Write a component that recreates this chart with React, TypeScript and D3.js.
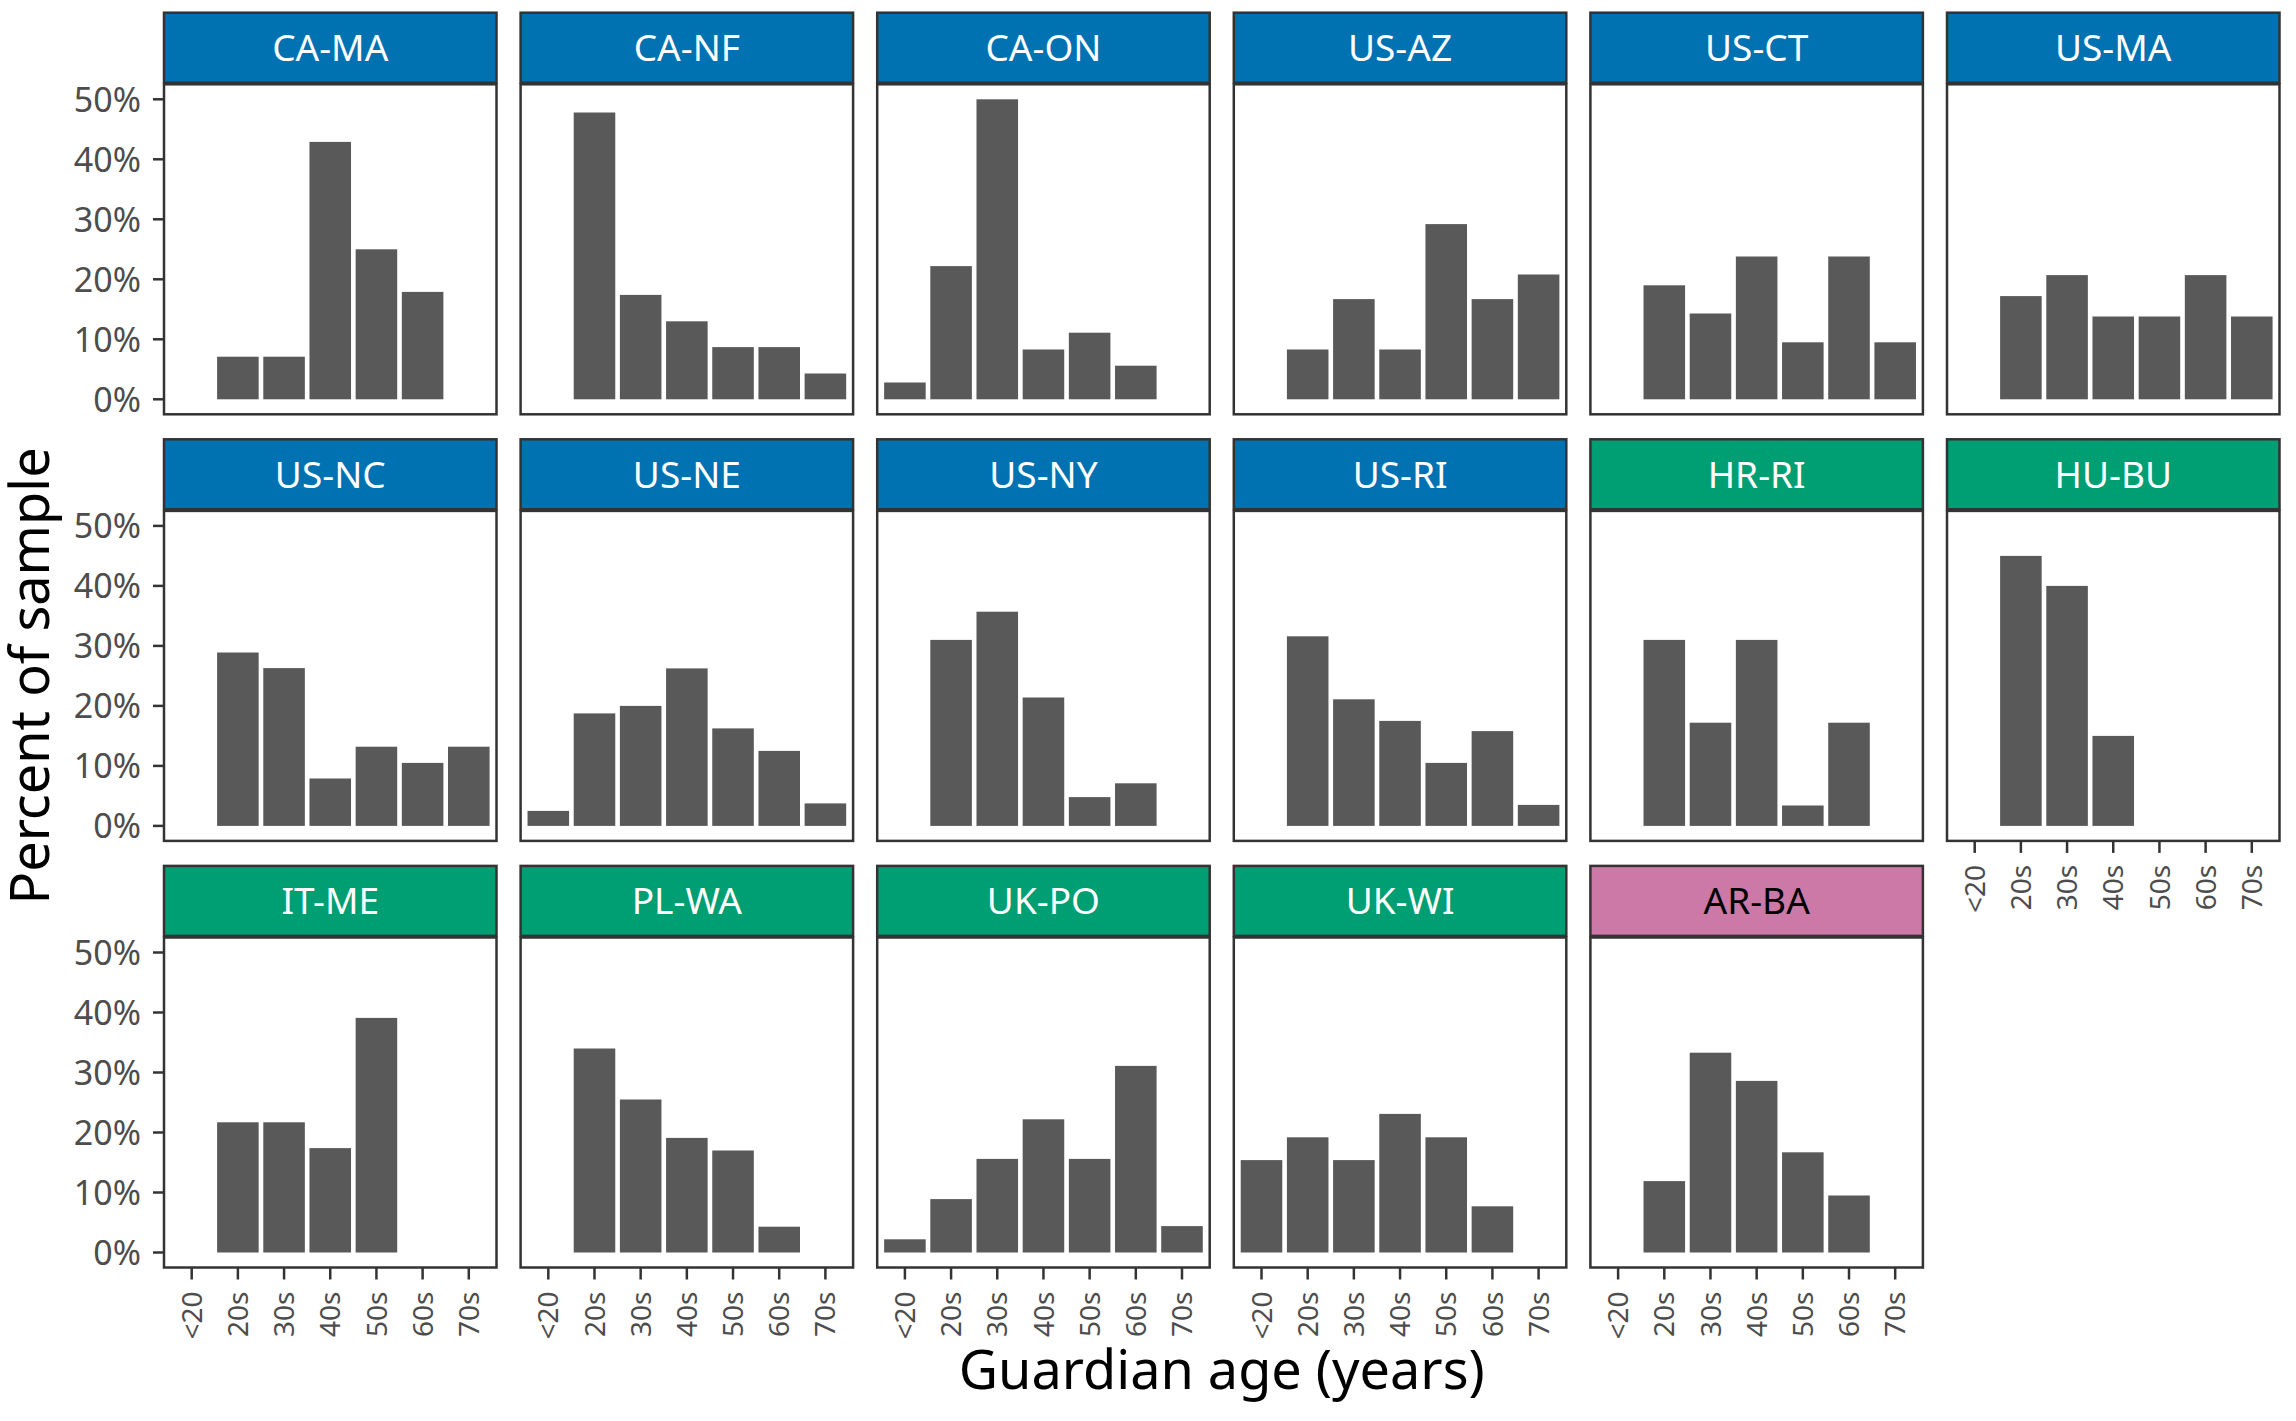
import * as d3 from "d3";

// age groups on the x axis
const ageGroups = ["<20", "20s", "30s", "40s", "50s", "60s", "70s"];
const yTicks = [0, 10, 20, 30, 40, 50];

// percent of sample per age group, one array per site
const caMa = [0, 7.1, 7.1, 42.9, 25.0, 17.9, 0];
const caNf = [0, 47.8, 17.4, 13.0, 8.7, 8.7, 4.3];
const caOn = [2.8, 22.2, 50.0, 8.3, 11.1, 5.6, 0];
const usAz = [0, 8.3, 16.7, 8.3, 29.2, 16.7, 20.8];
const usCt = [0, 19.0, 14.3, 23.8, 9.5, 23.8, 9.5];
const usMa = [0, 17.2, 20.7, 13.8, 13.8, 20.7, 13.8];
const usNc = [0, 28.9, 26.3, 7.9, 13.2, 10.5, 13.2];
const usNe = [2.5, 18.75, 20.0, 26.25, 16.25, 12.5, 3.75];
const usNy = [0, 31.0, 35.7, 21.4, 4.8, 7.1, 0];
const usRi = [0, 31.6, 21.1, 17.5, 10.5, 15.8, 3.5];
const hrRi = [0, 31.0, 17.2, 31.0, 3.4, 17.2, 0];
const huBu = [0, 45.0, 40.0, 15.0, 0, 0, 0];
const itMe = [0, 21.7, 21.7, 17.4, 39.1, 0, 0];
const plWa = [0, 34.0, 25.5, 19.1, 17.0, 4.3, 0];
const ukPo = [2.2, 8.9, 15.6, 22.2, 15.6, 31.1, 4.4];
const ukWi = [15.4, 19.2, 15.4, 23.1, 19.2, 7.7, 0];
const arBa = [0, 11.9, 33.3, 28.6, 16.7, 9.5, 0];

const siteNames = [
  "CA-MA", "CA-NF", "CA-ON", "US-AZ", "US-CT", "US-MA",
  "US-NC", "US-NE", "US-NY", "US-RI", "HR-RI", "HU-BU",
  "IT-ME", "PL-WA", "UK-PO", "UK-WI", "AR-BA",
];
const siteValues = [
  caMa, caNf, caOn, usAz, usCt, usMa,
  usNc, usNe, usNy, usRi, hrRi, huBu,
  itMe, plWa, ukPo, ukWi, arBa,
];
const siteRegion = [
  "na", "na", "na", "na", "na", "na",
  "na", "na", "na", "na", "eu", "eu",
  "eu", "eu", "eu", "eu", "sa",
];

const regionFill: Record<string, string> = { na: "#0072B2", eu: "#009E73", sa: "#CC79A7" };
const regionText: Record<string, string> = { na: "#FFFFFF", eu: "#FFFFFF", sa: "#000000" };

const W = 2296;
const H = 1421;
const nCol = 6;
const left = 164;
const top = 12.7;
const panelW = 332.5;
const panelH = 330;
const stripH = 70;
const stripGap = 1.6;
const colStep = 356.6;
const rowStep = 426.6;
const font = "'Noto Sans', 'Open Sans', sans-serif";
const ink = "#333333";
const tickText = "#4D4D4D";

export default function App() {
  const x = d3.scaleBand<string>().domain(ageGroups).range([0, panelW]).paddingInner(0.1).paddingOuter(0.15);
  const y = d3.scaleLinear().domain([-2.5, 52.5]).range([panelH, 0]);

  const nRows = Math.ceil(siteNames.length / nCol);
  const bottomOf = (col: number) => {
    let r = nRows - 1;
    while (r * nCol + col >= siteNames.length) r--;
    return r;
  };

  const firstPanelTop = top + stripH + stripGap;
  const lastPanelBottom = top + (nRows - 1) * rowStep + stripH + stripGap + panelH;
  const panelsRight = left + (nCol - 1) * colStep + panelW;

  return (
    <svg
      width={W}
      height={H}
      style={{ position: "absolute", left: 0, top: 0, display: "block", background: "#fff" }}
      fontFamily={font}
    >
      <rect width={W} height={H} fill="#fff" />
      {siteNames.map((name, i) => {
        const col = i % nCol;
        const row = Math.floor(i / nCol);
        const gx = left + col * colStep;
        const gy = top + row * rowStep;
        const region = siteRegion[i];
        const vals = siteValues[i];
        const showX = bottomOf(col) === row;
        return (
          <g key={name} transform={`translate(${gx},${gy})`}>
            <rect x={0} y={0} width={panelW} height={stripH} fill={regionFill[region]} stroke={ink} strokeWidth={2.5} />
            <text
              x={panelW / 2}
              y={stripH / 2}
              dy="0.36em"
              textAnchor="middle"
              fontSize={37}
              fill={regionText[region]}
            >
              {name}
            </text>
            <g transform={`translate(0,${stripH + stripGap})`}>
              <rect width={panelW} height={panelH} fill="#fff" />
              {vals.map((v, k) =>
                v > 0 ? (
                  <rect
                    key={k}
                    x={x(ageGroups[k])}
                    width={x.bandwidth()}
                    y={y(v)}
                    height={y(0) - y(v)}
                    fill="#595959"
                  />
                ) : null
              )}
              <rect width={panelW} height={panelH} fill="none" stroke={ink} strokeWidth={2.5} />
              {col === 0 &&
                yTicks.map((t) => (
                  <g key={t} transform={`translate(0,${y(t)})`}>
                    <line x1={-11} x2={0} stroke={ink} strokeWidth={2.5} />
                    <text x={-23} dy="0.36em" textAnchor="end" fontSize={34} fill={tickText}>
                      {`${t}%`}
                    </text>
                  </g>
                ))}
              {showX &&
                ageGroups.map((a) => {
                  const cx = (x(a) ?? 0) + x.bandwidth() / 2;
                  return (
                    <g key={a} transform={`translate(${cx},${panelH})`}>
                      <line y1={0} y2={12} stroke={ink} strokeWidth={2.5} />
                      <text
                        transform="translate(0,24) rotate(-90)"
                        dy="0.36em"
                        textAnchor="end"
                        fontSize={28}
                        fill={tickText}
                      >
                        {a}
                      </text>
                    </g>
                  );
                })}
            </g>
          </g>
        );
      })}
      <text
        x={(left + panelsRight) / 2}
        y={H - 32}
        textAnchor="middle"
        fontSize={54}
        fill="#000"
      >
        Guardian age (years)
      </text>
      <text
        transform={`translate(49,${(firstPanelTop + lastPanelBottom) / 2}) rotate(-90)`}
        textAnchor="middle"
        fontSize={54}
        fill="#000"
      >
        Percent of sample
      </text>
    </svg>
  );
}
